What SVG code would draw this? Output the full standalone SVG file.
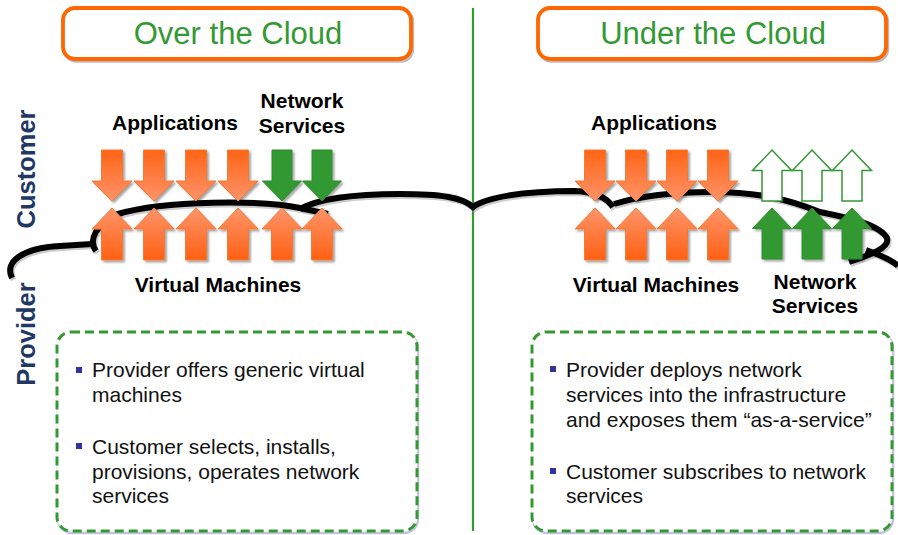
<svg xmlns="http://www.w3.org/2000/svg" xmlns:xlink="http://www.w3.org/1999/xlink" width="898" height="535" viewBox="0 0 898 535">
<style>
  .title { font-family: "Liberation Sans", Arial, sans-serif; font-size: 31px; fill: #339933; text-anchor: middle; }
  .tbox { fill: #ffffff; stroke: #FF6600; stroke-width: 3.8; }
  .tshadow { fill: none; stroke: #BBBBBB; stroke-width: 3.5; }
  .lbl { font-family: "Liberation Sans", Arial, sans-serif; font-size: 21px; font-weight: bold; fill: #000000; text-anchor: middle; }
  .side { font-family: "Liberation Sans", Arial, sans-serif; font-size: 25.5px; font-weight: bold; fill: #1F3864; text-anchor: middle; }
  .body { font-family: "Liberation Sans", Arial, sans-serif; font-size: 21px; fill: #111111; }
  .bullet { fill: #333399; }
  .dbox { fill: #ffffff; stroke: #339933; stroke-width: 3; stroke-dasharray: 9 5; }
  .dshadow { fill: none; stroke: #C4C4DA; stroke-width: 2.5; }
  .curve { fill: none; stroke: #000000; stroke-width: 6; stroke-linecap: butt; }
  .curveShadow { fill: none; stroke: #AAAAAA; stroke-width: 6; opacity: 0.6; }
  .down { fill: url(#gDown); stroke: #F47A36; stroke-width: 1; }
  .up { fill: url(#gUp); stroke: #F47A36; stroke-width: 1; }
  .gfill { fill: #339933; stroke: #2E8B2E; stroke-width: 1; }
  .gout { fill: #ffffff; stroke: #339933; stroke-width: 1.5; }
</style>
<defs>
  <linearGradient id="gDown" x1="0" y1="0" x2="0" y2="1">
    <stop offset="0" stop-color="#FF6415"/>
    <stop offset="1" stop-color="#FF936A"/>
  </linearGradient>
  <linearGradient id="gUp" x1="0" y1="0" x2="0" y2="1">
    <stop offset="0" stop-color="#FF956B"/>
    <stop offset="1" stop-color="#FF6012"/>
  </linearGradient>
  <filter id="sh" x="-20%" y="-20%" width="150%" height="150%">
    <feGaussianBlur in="SourceAlpha" stdDeviation="0.8"/>
    <feOffset dx="1.5" dy="1.5" result="o"/>
    <feComponentTransfer><feFuncA type="linear" slope="0.35"/></feComponentTransfer>
    <feMerge><feMergeNode/><feMergeNode in="SourceGraphic"/></feMerge>
  </filter>
  <path id="aDown" d="M -10.5,0 H 10.5 V 31 H 20 L 0,51 L -20,31 H -10.5 Z"/>
  <path id="aUp" d="M 0,0 L 20,21 H 10.5 V 52 H -10.5 V 21 H -20 Z"/>
  <path id="gDownP" d="M -10,0 H 10 V 31 H 19.5 L 0,51 L -19.5,31 H -10 Z"/>
  <path id="gUpP" d="M 0,0 L 19.5,20.5 H 10 V 51 H -10 V 20.5 H -19.5 Z"/>
</defs>

<rect x="0" y="0" width="898" height="535" fill="#ffffff"/>

<!-- titles -->
<g id="title-over">
  <rect class="tshadow" x="64.5" y="10" width="348" height="51" rx="12"/>
  <rect class="tbox" x="63" y="8" width="348" height="51" rx="12"/>
  <text class="title" x="238" y="44">Over the Cloud</text>
</g>
<g id="title-under">
  <rect class="tshadow" x="539.5" y="10" width="348" height="51" rx="12"/>
  <rect class="tbox" x="538" y="8" width="348" height="51" rx="12"/>
  <text class="title" x="713" y="44">Under the Cloud</text>
</g>

<!-- divider -->
<g id="divider">
  <line x1="473" y1="8" x2="473" y2="531" stroke="#339933" stroke-width="2.2"/>
</g>

<!-- side labels -->
<g id="side-customer">
  <text class="side" transform="translate(35,169) rotate(-90)">Customer</text>
</g>
<g id="side-provider">
  <text class="side" transform="translate(35,334) rotate(-90)">Provider</text>
</g>

<!-- cloud outline (drawn behind arrows) -->
<g id="connectors">
  <g transform="translate(1.5,2)">
    <path class="curveShadow" d="M 12,278 C 4,262 22,248 60,246 L 92,244"/>
    <path class="curveShadow" d="M 96,251 C 88,240 96,224 118,214 C 165,200 262,200 300,208 L 328,214"/>
    <path class="curveShadow" d="M 300,209 C 320,198 360,194 400,194 C 440,194 462,197 473,207 C 485,198 520,191 575,191 C 595,192 606,197 613,207"/>
    <path class="curveShadow" d="M 614,204 C 640,196 670,192 712,192 C 760,192 790,200 820,212 C 850,218 880,225 887,238 C 890,248 870,255 849,262"/>
    <path class="curveShadow" d="M 866,250 C 880,255 892,260 898,266"/>
  </g>
  <path class="curve" d="M 12,278 C 4,262 22,248 60,246 L 92,244"/>
  <path class="curve" d="M 96,251 C 88,240 96,224 118,214 C 165,200 262,200 300,208 L 328,214"/>
  <path class="curve" d="M 300,209 C 320,198 360,194 400,194 C 440,194 462,197 473,207 C 485,198 520,191 575,191 C 595,192 606,197 613,207"/>
  <path class="curve" d="M 614,204 C 640,196 670,192 712,192 C 760,192 790,200 820,212 C 850,218 880,225 887,238 C 890,248 870,255 849,262"/>
  <path class="curve" d="M 866,250 C 880,255 892,260 898,266"/>
</g>

<!-- left arrows -->
<g id="left-applications-arrows" filter="url(#sh)">
  <use xlink:href="#aDown" class="down" x="112" y="150"/>
  <use xlink:href="#aDown" class="down" x="154" y="150"/>
  <use xlink:href="#aDown" class="down" x="196" y="150"/>
  <use xlink:href="#aDown" class="down" x="238" y="150"/>
</g>
<g id="left-network-arrows" filter="url(#sh)">
  <use xlink:href="#gDownP" class="gfill" x="282" y="150"/>
  <use xlink:href="#gDownP" class="gfill" x="322" y="150"/>
</g>
<g id="left-vm-arrows" filter="url(#sh)">
  <use xlink:href="#aUp" class="up" x="112" y="208"/>
  <use xlink:href="#aUp" class="up" x="154" y="208"/>
  <use xlink:href="#aUp" class="up" x="196" y="208"/>
  <use xlink:href="#aUp" class="up" x="238" y="208"/>
  <use xlink:href="#aUp" class="up" x="282" y="208"/>
  <use xlink:href="#aUp" class="up" x="322" y="208"/>
</g>

<!-- right arrows -->
<g id="right-applications-arrows" filter="url(#sh)">
  <use xlink:href="#aDown" class="down" x="595" y="150"/>
  <use xlink:href="#aDown" class="down" x="636" y="150"/>
  <use xlink:href="#aDown" class="down" x="677" y="150"/>
  <use xlink:href="#aDown" class="down" x="718" y="150"/>
</g>
<g id="right-vm-arrows" filter="url(#sh)">
  <use xlink:href="#aUp" class="up" x="595" y="208"/>
  <use xlink:href="#aUp" class="up" x="636" y="208"/>
  <use xlink:href="#aUp" class="up" x="677" y="208"/>
  <use xlink:href="#aUp" class="up" x="718" y="208"/>
</g>
<g id="right-service-outline-arrows">
  <use xlink:href="#gUpP" class="gout" x="772" y="150"/>
  <use xlink:href="#gUpP" class="gout" x="812" y="150"/>
  <use xlink:href="#gUpP" class="gout" x="852" y="150"/>
</g>
<g id="right-network-arrows" filter="url(#sh)">
  <use xlink:href="#gUpP" class="gfill" x="772" y="208"/>
  <use xlink:href="#gUpP" class="gfill" x="812" y="208"/>
  <use xlink:href="#gUpP" class="gfill" x="852" y="208"/>
</g>

<!-- labels -->
<g id="label-left-applications"><text class="lbl" x="175" y="130">Applications</text></g>
<g id="label-left-network"><text class="lbl" x="302" y="108">Network</text><text class="lbl" x="302" y="133">Services</text></g>
<g id="label-left-vm"><text class="lbl" x="218" y="292">Virtual Machines</text></g>
<g id="label-right-applications"><text class="lbl" x="654" y="130">Applications</text></g>
<g id="label-right-vm"><text class="lbl" x="656" y="292">Virtual Machines</text></g>
<g id="label-right-network"><text class="lbl" x="815" y="289">Network</text><text class="lbl" x="815" y="313">Services</text></g>

<!-- bottom boxes -->
<g id="box-left">
  <rect class="dshadow" x="58" y="334" width="360" height="199" rx="14"/>
  <rect class="dbox" x="57" y="332" width="360" height="199" rx="14"/>
  <rect class="bullet" x="76" y="367" width="6" height="6"/>
  <text class="body" x="92" y="377">Provider offers generic virtual</text>
  <text class="body" x="92" y="402">machines</text>
  <rect class="bullet" x="76" y="443" width="6" height="6"/>
  <text class="body" x="92" y="454">Customer selects, installs,</text>
  <text class="body" x="92" y="479">provisions, operates network</text>
  <text class="body" x="92" y="503">services</text>
</g>
<g id="box-right">
  <rect class="dshadow" x="533" y="334" width="360" height="199" rx="14"/>
  <rect class="dbox" x="532" y="332" width="360" height="199" rx="14"/>
  <rect class="bullet" x="550" y="366" width="6" height="6"/>
  <text class="body" x="566" y="377">Provider deploys network</text>
  <text class="body" x="566" y="402">services into the infrastructure</text>
  <text class="body" x="566" y="427">and exposes them “as-a-service”</text>
  <rect class="bullet" x="550" y="468" width="6" height="6"/>
  <text class="body" x="566" y="479">Customer subscribes to network</text>
  <text class="body" x="566" y="503">services</text>
</g>
</svg>
